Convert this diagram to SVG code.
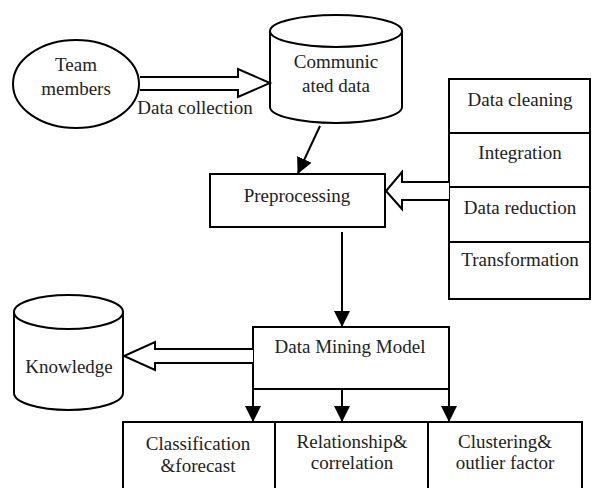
<svg xmlns="http://www.w3.org/2000/svg" width="592" height="488" viewBox="0 0 592 488">
<style>
.s{fill:#fff;stroke:#000;stroke-width:2}
.l{fill:none;stroke:#000;stroke-width:2}
.t{font-family:"Liberation Serif","Times New Roman",serif;font-size:19px;fill:#222;text-anchor:middle}
</style>
<defs>
<marker id="ah" markerWidth="10" markerHeight="10" refX="9" refY="5" orient="auto" markerUnits="userSpaceOnUse" viewBox="0 0 10 10">
<path d="M0,0 L10,5 L0,10 Z" fill="#000"/>
</marker>
<marker id="ah2" markerWidth="16" markerHeight="16" refX="15" refY="8" orient="auto" markerUnits="userSpaceOnUse" viewBox="0 0 16 16">
<path d="M0,0 L16,8 L0,16 Z" fill="#000"/>
</marker>
</defs>
<g id="team">
<ellipse class="s" cx="76" cy="84" rx="63" ry="44"/>
<text class="t" x="76" y="71">Team</text>
<text class="t" x="76" y="95">members</text>
</g>
<g id="communicated">
<path class="s" d="M270,31 V107 A66,16 0 0 0 402,107 V31"/>
<ellipse class="s" cx="336" cy="31" rx="66" ry="16"/>
<text class="t" x="336" y="68">Communic</text>
<text class="t" x="336" y="92">ated data</text>
</g>
<g id="steps">
<rect class="s" x="449" y="79" width="141" height="220"/>
<line class="l" x1="449" y1="133" x2="590" y2="133"/>
<line class="l" x1="449" y1="187" x2="590" y2="187"/>
<line class="l" x1="449" y1="242" x2="590" y2="242"/>
<text class="t" x="520" y="106">Data cleaning</text>
<text class="t" x="520" y="159">Integration</text>
<text class="t" x="520" y="214">Data reduction</text>
<text class="t" x="520" y="266">Transformation</text>
</g>
<g id="preprocessing">
<rect class="s" x="210" y="174" width="175" height="53"/>
<text class="t" x="297" y="202">Preprocessing</text>
</g>
<g id="dmm">
<rect class="s" x="253" y="327" width="196" height="62"/>
<text class="t" x="350" y="353">Data Mining Model</text>
</g>
<g id="knowledge">
<path class="s" d="M14,312 V393 A54.5,17 0 0 0 123,393 V312"/>
<ellipse class="s" cx="68.5" cy="312" rx="54.5" ry="17"/>
<text class="t" x="69" y="373">Knowledge</text>
</g>
<g id="classification">
<rect class="s" x="123" y="422" width="152" height="70"/>
<text class="t" x="198" y="450">Classification</text>
<text class="t" x="198" y="472">&amp;forecast</text>
</g>
<g id="relationship">
<rect class="s" x="275" y="422" width="153" height="70"/>
<text class="t" x="352" y="448">Relationship&amp;</text>
<text class="t" x="352" y="469">correlation</text>
</g>
<g id="clustering">
<rect class="s" x="428" y="422" width="154" height="70"/>
<text class="t" x="505" y="448">Clustering&amp;</text>
<text class="t" x="505" y="469">outlier factor</text>
</g>
<g id="connectors">
<path class="s" d="M140,77 H238 V69 L270,83 L238,97 V90 H140"/>
<text class="t" x="195" y="114">Data collection</text>
<path class="s" d="M449,182 H402 V172 L386,191 L402,209 V200 H449"/>
<path class="s" d="M253,349 H155 V342 L124,356 L155,370 V363 H253"/>
<line class="l" x1="320" y1="126" x2="298" y2="173" marker-end="url(#ah2)"/>
<line class="l" x1="342" y1="232" x2="342" y2="326" marker-end="url(#ah2)"/>
<line class="l" x1="253" y1="389" x2="253" y2="421" marker-end="url(#ah2)"/>
<line class="l" x1="342" y1="389" x2="342" y2="421" marker-end="url(#ah2)"/>
<line class="l" x1="449" y1="389" x2="449" y2="421" marker-end="url(#ah2)"/>
</g>
</svg>
